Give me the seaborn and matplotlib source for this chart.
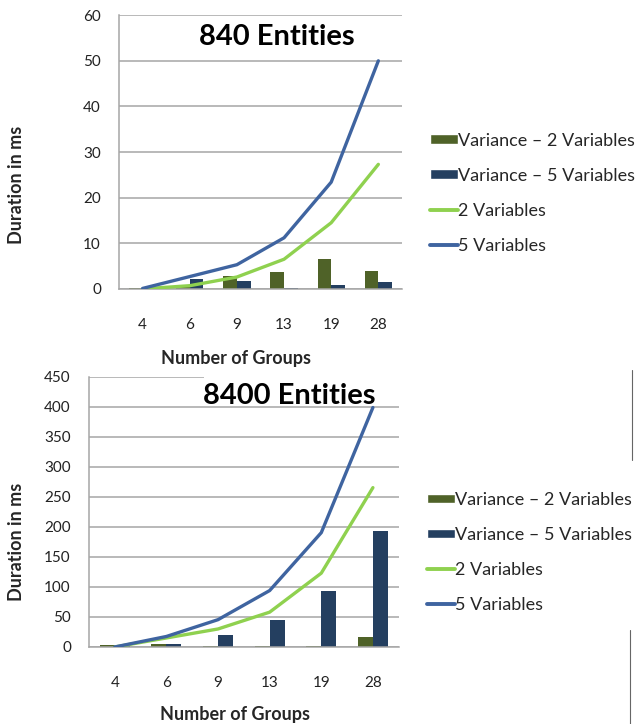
import numpy as np
import pandas as pd
import matplotlib
matplotlib.use("Agg")
import matplotlib.pyplot as plt
from matplotlib.patches import Patch, Rectangle
from matplotlib.lines import Line2D
import seaborn as sns

# category axis
groups = [4, 6, 9, 13, 19, 28]

# 840 entities
var2_840 = [0.3, 0.8, 2.9, 3.6, 6.5, 3.9]
var5_840 = [0.1, 2.2, 1.8, 0.3, 0.9, 1.5]
two_vars_840 = [0.0, 0.7, 2.6, 6.5, 14.5, 27.3]
five_vars_840 = [0.1, 2.7, 5.3, 11.2, 23.4, 50.0]

# 8400 entities
var2_8400 = [2.8, 5.0, 2.0, 2.0, 2.0, 16.5]
var5_8400 = [1.0, 5.0, 20.5, 45.5, 92.5, 192.5]
two_vars_8400 = [0.0, 15.0, 30.0, 58.0, 123.0, 265.5]
five_vars_8400 = [0.0, 17.5, 45.5, 94.0, 190.5, 399.0]

bar_names = ["Variance \u2013 2 Variables", "Variance \u2013 5 Variables"]
line_names = ["2 Variables", "5 Variables"]

OLIVE = "#4f6228"
NAVY = "#243f60"
GREEN = "#8fd14f"
BLUE = "#3f64a0"
GRID = "#a6a6a6"

sns.set_style("white")
plt.rcParams['font.family'] = ['Lato', 'DejaVu Sans']

fig = plt.figure(figsize=(6.4, 7.24), dpi=100)


def draw_panel(ax, var2, var5, two, five, ymax, ystep, title, tpos, lab, leg_x):
    bars = pd.DataFrame({
        "group": groups * 2,
        "value": var2 + var5,
        "series": [bar_names[0]] * len(groups) + [bar_names[1]] * len(groups),
    })
    ax.yaxis.grid(True, color=GRID, linewidth=1.1, zorder=0)
    ax.set_axisbelow(True)
    sns.barplot(data=bars, x="group", y="value", hue="series", order=groups,
                palette=[OLIVE, NAVY], width=0.58, linewidth=0, saturation=1,
                errorbar=None, legend=False, ax=ax, zorder=2)
    xs = np.arange(len(groups))
    sns.lineplot(x=xs, y=two, color=GREEN, linewidth=2.4, ax=ax, zorder=3)
    sns.lineplot(x=xs, y=five, color=BLUE, linewidth=2.4, ax=ax, zorder=4)

    ax.set_xlim(-0.5, len(groups) - 0.5)
    ax.set_ylim(0, ymax)
    ax.set_yticks(np.arange(0, ymax + 1, ystep))
    ax.tick_params(axis='y', length=7, color=GRID, width=1, pad=6,
                   labelsize=11, labelcolor="#222222")
    # boundary ticks on x, labels centered on categories
    ax.set_xticks(np.arange(len(groups) + 1) - 0.5)
    ax.set_xticklabels([])
    ax.set_xticks(xs, minor=True)
    ax.set_xticklabels([str(g) for g in groups], minor=True)
    ax.tick_params(axis='x', which='major', length=6, color=GRID, width=1)
    ax.tick_params(axis='x', which='minor', length=0, pad=21,
                   labelsize=11, labelcolor="#222222")
    for s in ["top", "right"]:
        ax.spines[s].set_visible(False)
    for s in ["left", "bottom"]:
        ax.spines[s].set_color(GRID)
        ax.spines[s].set_linewidth(1.1)

    ax.set_xlabel("Number of Groups", fontsize=13, fontweight="bold")
    ax.set_ylabel("Duration in ms", fontsize=13, fontweight="bold")
    ax.xaxis.set_label_coords(lab[0], lab[1])
    ax.yaxis.set_label_coords(lab[2], lab[3])

    ax.text(tpos[0], tpos[1], title, transform=ax.transAxes, ha="center",
            va="center", fontsize=21, fontweight="bold", color="black", zorder=6)

    handles = [
        Patch(facecolor=OLIVE, label=bar_names[0]),
        Patch(facecolor=NAVY, label=bar_names[1]),
        Line2D([], [], color=GREEN, linewidth=2.8, label=line_names[0]),
        Line2D([], [], color=BLUE, linewidth=2.8, label=line_names[1]),
    ]
    ax.legend(handles=handles, loc="center left", bbox_to_anchor=(leg_x, 0.35),
              frameon=False, fontsize=13, handlelength=1.55, handleheight=0.45,
              handletextpad=0.0, labelspacing=1.05, borderaxespad=0,
              borderpad=0)


ax1 = fig.add_axes([0.186, 0.601, 0.442, 0.378])
draw_panel(ax1, var2_840, var5_840, two_vars_840, five_vars_840, 60, 10,
           "840 Entities", (0.558, 0.92), (0.413, -0.222, -0.332, 0.38), 1.099)

ax2 = fig.add_axes([0.139, 0.1064, 0.484, 0.373])
draw_panel(ax2, var2_8400, var5_8400, two_vars_8400, five_vars_8400, 450, 50,
           "8400 Entities", (0.648, 0.93), (0.471, -0.218, -0.206, 0.39), 1.09)
# white box behind the lower title hides part of the top gridline
ax2.add_patch(Rectangle((0.371, 0.9), 0.64, 0.12, transform=ax2.transAxes,
                        facecolor="white", edgecolor="none", zorder=5,
                        clip_on=False))

# thin border fragments at the right edge
fig.add_artist(Line2D([0.9875, 0.9875], [0.365, 0.489], color="#666666", lw=0.8))
fig.add_artist(Line2D([0.9845, 0.9845], [0.0, 0.13], color="#666666", lw=0.8))

fig.savefig("out.png", dpi=100)
